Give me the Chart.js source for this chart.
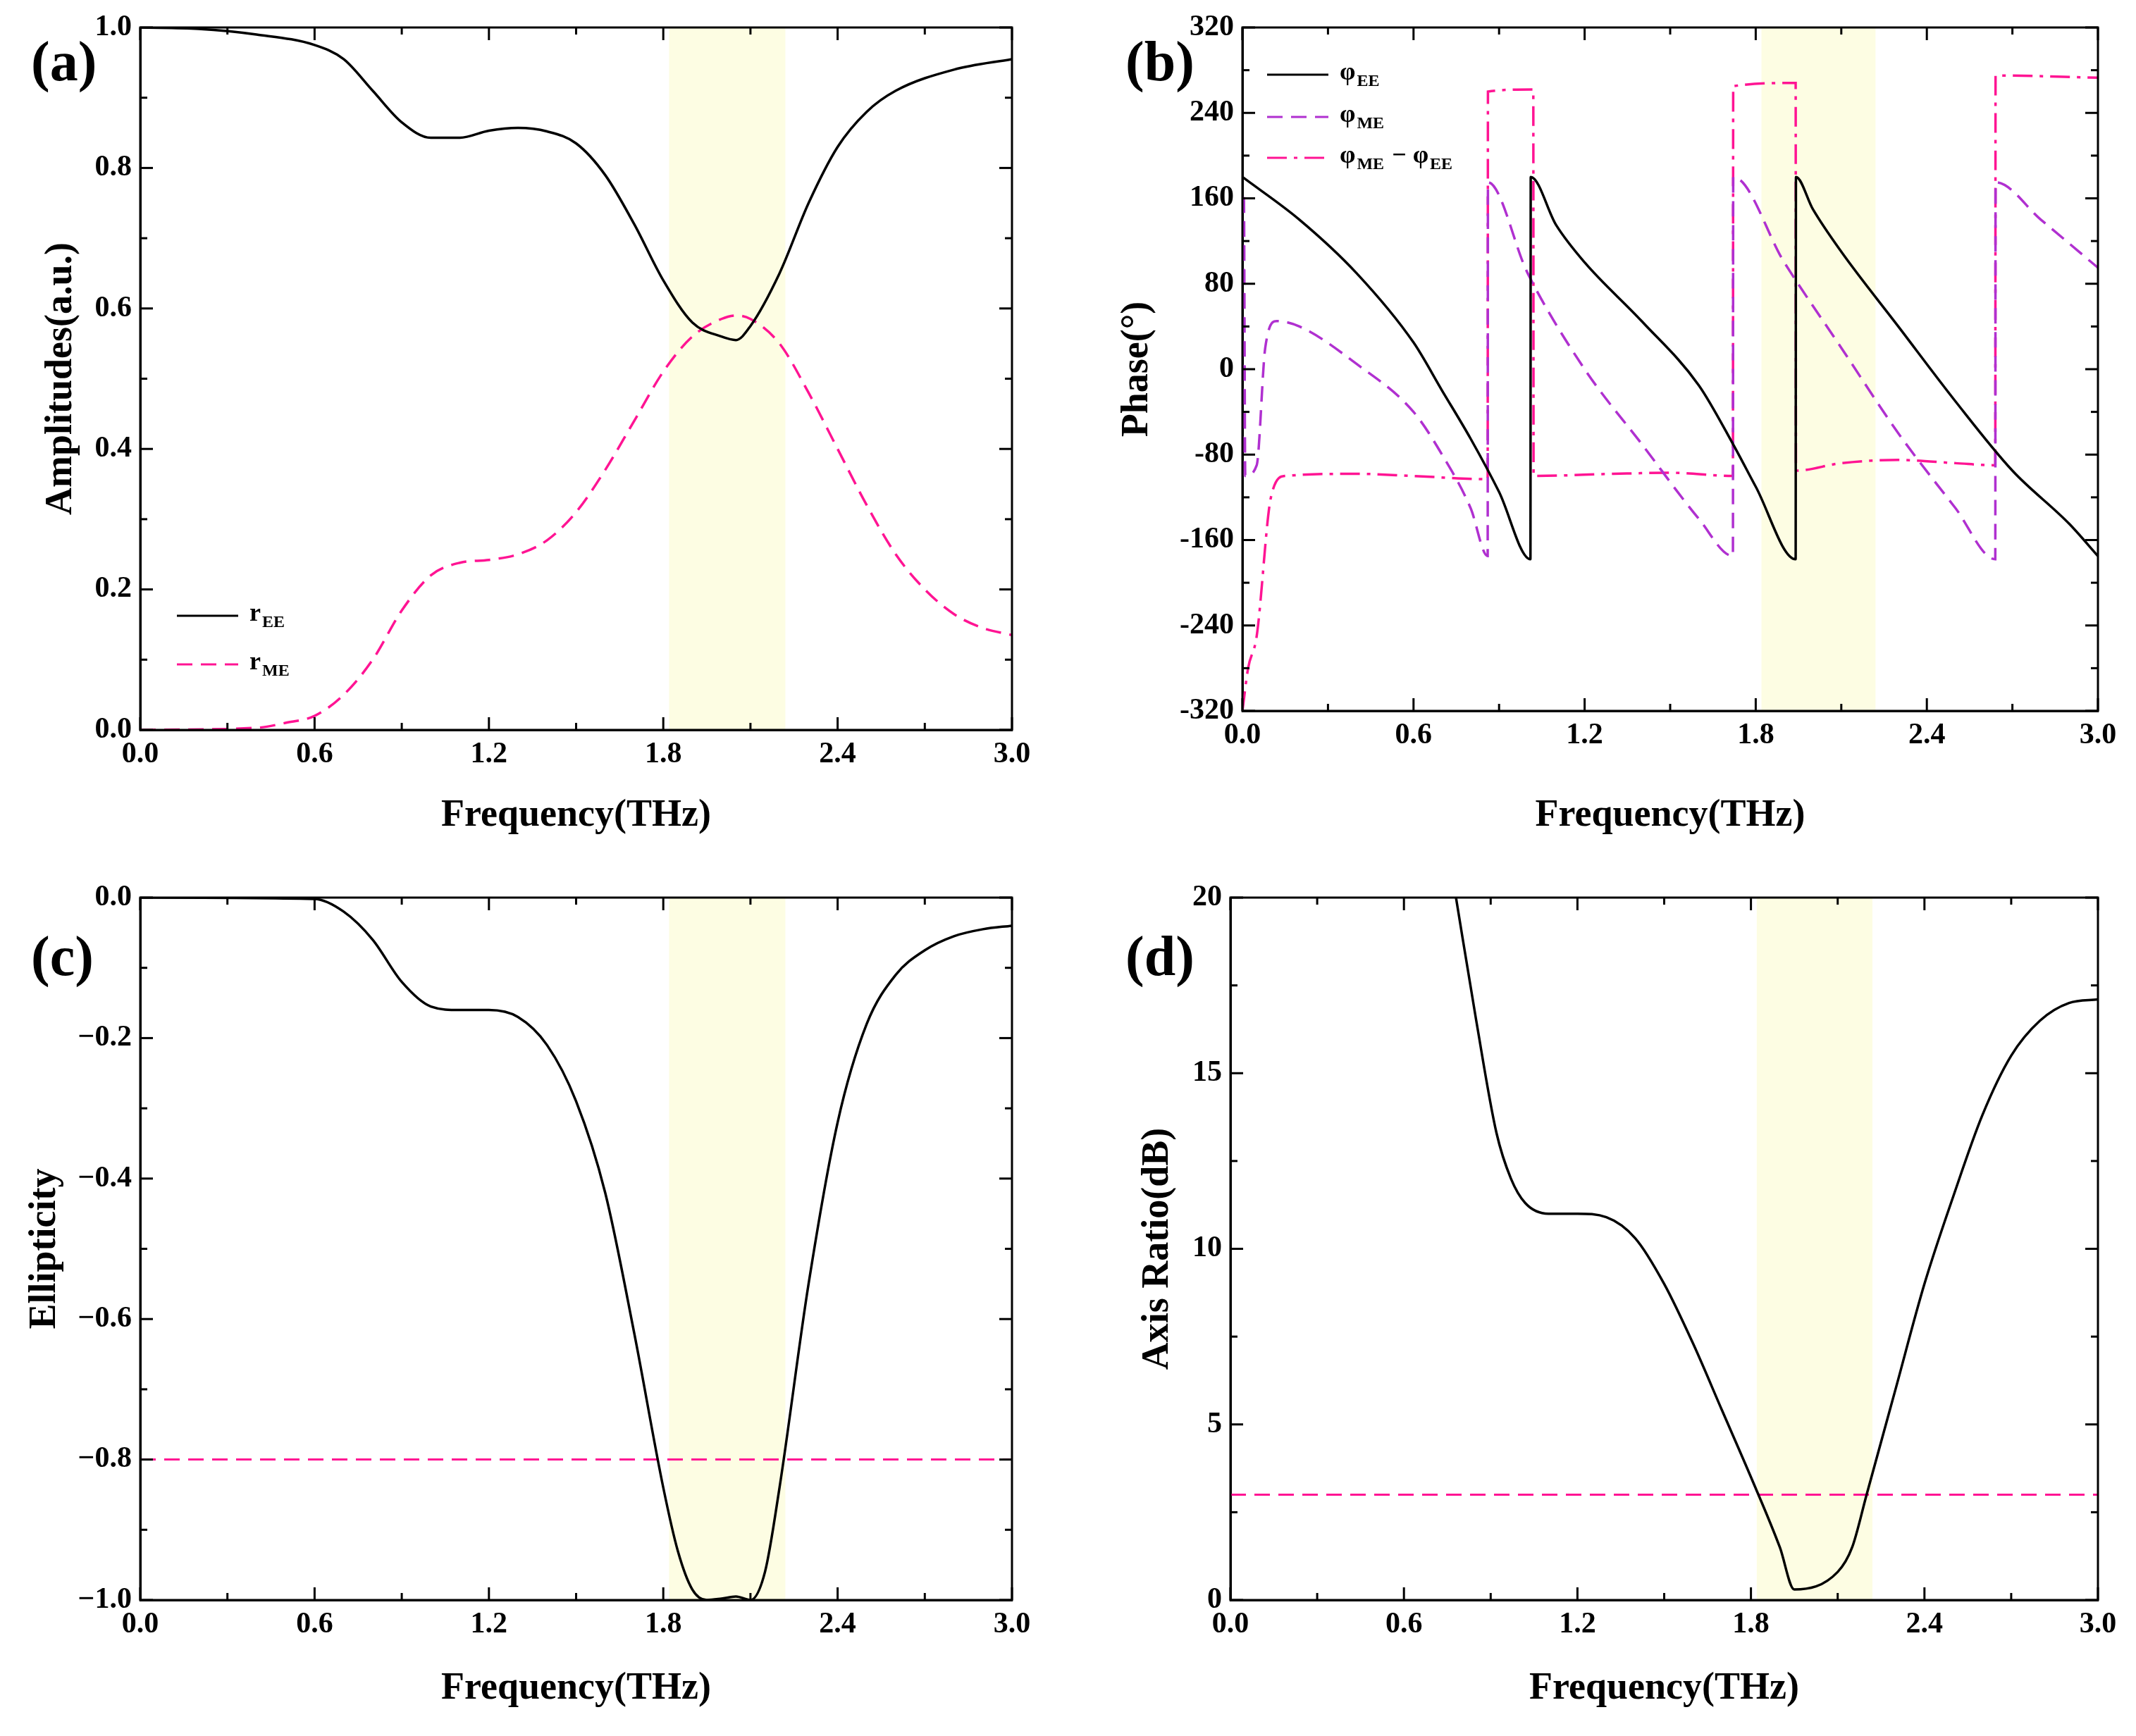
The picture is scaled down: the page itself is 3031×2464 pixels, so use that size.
<!DOCTYPE html>
<html><head><meta charset="utf-8">
<script src="https://cdn.jsdelivr.net/npm/chart.js@4"></script>
<style>
body{margin:0;background:#fff;width:3031px;height:2464px;position:relative;overflow:hidden}
.p{position:absolute}
</style></head><body>
<div class="p" style="left:0;top:0;width:1500px;height:1232px"><canvas id="ca"></canvas></div>
<div class="p" style="left:1516px;top:0;width:1515px;height:1232px"><canvas id="cb"></canvas></div>
<div class="p" style="left:0;top:1232px;width:1500px;height:1232px"><canvas id="cc"></canvas></div>
<div class="p" style="left:1516px;top:1232px;width:1515px;height:1232px"><canvas id="cd"></canvas></div>
<script>
// panel (a) amplitudes
var freqA = [0,0.2,0.4,0.6,0.7,0.8,0.9,1.0,1.1,1.2,1.3,1.4,1.5,1.6,1.7,1.8,1.9,2.0,2.05,2.1,2.2,2.3,2.4,2.5,2.6,2.8,3.0];
var rEE = [1.0,0.998,0.99,0.975,0.955,0.91,0.865,0.843,0.843,0.853,0.857,0.852,0.835,0.79,0.72,0.64,0.58,0.56,0.555,0.575,0.65,0.75,0.83,0.88,0.91,0.94,0.955];
var freqA2 = [0,0.4,0.5,0.6,0.7,0.8,0.9,1.0,1.1,1.2,1.3,1.4,1.5,1.6,1.7,1.8,1.9,2.0,2.05,2.1,2.2,2.3,2.4,2.5,2.6,2.7,2.8,2.9,3.0];
var rME = [0,0.003,0.01,0.02,0.05,0.1,0.17,0.22,0.238,0.242,0.25,0.27,0.31,0.37,0.44,0.51,0.56,0.585,0.59,0.585,0.55,0.48,0.4,0.32,0.25,0.2,0.165,0.145,0.135];
// panel (b) phases
var fEE = [0,0.2,0.4,0.6,0.7,0.8,0.9,1.01,1.011,1.1,1.2,1.4,1.6,1.72,1.8,1.94,1.941,2.0,2.1,2.3,2.5,2.7,2.9,3.0];
var phiEE = [180,140,90,25,-20,-65,-115,-178,180,135,100,45,-15,-70,-110,-178,180,150,110,40,-30,-95,-145,-175];
var fME = [0,0.005,0.01,0.05,0.08,0.12,0.2,0.4,0.6,0.7,0.8,0.86,0.861,1.0,1.2,1.4,1.6,1.72,1.721,1.9,2.1,2.3,2.5,2.64,2.641,2.8,3.0];
var phiME = [-100,165,-100,-90,20,45,40,5,-40,-80,-130,-175,175,90,0,-70,-140,-175,180,100,20,-60,-130,-178,175,140,95];
var fD = [0,0.02,0.05,0.1,0.15,0.4,0.6,0.86,0.861,1.02,1.021,1.3,1.5,1.72,1.721,1.94,1.941,2.1,2.3,2.5,2.64,2.641,3.0];
var phiD = [-320,-280,-250,-120,-100,-98,-100,-103,260,262,-100,-98,-97,-100,265,268,-95,-88,-85,-88,-90,275,273];
// panel (c) ellipticity
var fC = [0,0.6,0.7,0.8,0.9,1.0,1.1,1.2,1.3,1.4,1.5,1.6,1.7,1.8,1.85,1.9,1.95,2.0,2.05,2.1,2.15,2.2,2.3,2.4,2.5,2.6,2.7,2.8,2.9,3.0];
var ellip = [0,-0.002,-0.02,-0.06,-0.12,-0.155,-0.16,-0.16,-0.17,-0.21,-0.29,-0.42,-0.62,-0.84,-0.93,-0.985,-1.0,-0.998,-0.995,-1.0,-0.96,-0.84,-0.55,-0.32,-0.18,-0.11,-0.075,-0.055,-0.045,-0.04];
// panel (d) axis ratio
var fDd = [0.78,0.85,0.92,0.97,1.02,1.1,1.2,1.3,1.4,1.5,1.6,1.7,1.8,1.9,1.95,2.1,2.15,2.2,2.3,2.4,2.5,2.6,2.7,2.8,2.9,3.0];
var axisRatio = [20,16.5,13.3,12,11.3,11,11,10.9,10.3,9,7.3,5.4,3.5,1.5,0.3,0.8,1.5,3,6,9,11.5,13.8,15.5,16.5,17,17.1];

var band = [1.82, 2.22];
var FONT = '"Liberation Serif", "Times New Roman", serif';
var PINK = '#ff1493', PURPLE = '#b030d0';

function pts(xs, ys) { return xs.map(function (x, i) { return {x: x, y: ys[i]}; }); }

function makeChart(id, o) {
  var ctx = document.getElementById(id).getContext('2d');
  var deco = {
    id: 'deco',
    beforeDatasetsDraw: function (c) {
      var a = c.chartArea, x = c.scales.x, g = c.ctx;
      g.save();
      g.fillStyle = '#fdfde3';
      var l = x.getPixelForValue(band[0]), r = x.getPixelForValue(band[1]);
      g.fillRect(l, a.top, r - l, a.bottom - a.top);
      g.restore();
    },
    afterDraw: function (c) {
      var a = c.chartArea, g = c.ctx;
      g.save();
      g.strokeStyle = '#000'; g.lineWidth = 3;
      g.strokeRect(a.left, a.top, a.right - a.left, a.bottom - a.top);
      // inward ticks on all four sides
      var xs = c.scales.x, ys = c.scales.y;
      xs.ticks.forEach(function (t) {
        var px = xs.getPixelForValue(t.value);
        var len = t.label === '' ? 10 : 18;
        g.beginPath(); g.moveTo(px, a.top); g.lineTo(px, a.top + len); g.stroke();
        g.beginPath(); g.moveTo(px, a.bottom); g.lineTo(px, a.bottom - len); g.stroke();
      });
      ys.ticks.forEach(function (t) {
        var py = ys.getPixelForValue(t.value);
        var len = t.label === '' ? 10 : 18;
        g.beginPath(); g.moveTo(a.right, py); g.lineTo(a.right - len, py); g.stroke();
        g.beginPath(); g.moveTo(a.left, py); g.lineTo(a.left + len, py); g.stroke();
      });
      g.fillStyle = '#000';
      g.font = 'bold 80px ' + FONT;
      g.textAlign = 'left'; g.textBaseline = 'middle';
      g.fillText(o.tag, o.tagX, o.tagY);
      // legend
      (o.legend || []).forEach(function (e) {
        var y = e.y;
        g.strokeStyle = e.color; g.lineWidth = 3; g.setLineDash(e.dash || []);
        g.beginPath(); g.moveTo(e.x, y); g.lineTo(e.x + 87, y); g.stroke();
        g.setLineDash([]);
        var tx = e.x + 103;
        e.parts.forEach(function (p) {
          if (p[1]) { g.font = 'bold 24px ' + FONT; g.fillText(p[0], tx, y + 10); }
          else { g.font = 'bold 36px ' + FONT; g.fillText(p[0], tx, y - 2); }
          tx += g.measureText(p[0]).width + 2;
        });
      });
      g.restore();
    }
  };
  return new Chart(ctx, {
    type: 'line',
    data: { datasets: o.datasets },
    plugins: [deco],
    options: {
      responsive: true,
      maintainAspectRatio: false,
      animation: false,
      layout: { padding: o.pad },
      plugins: { legend: { display: false }, tooltip: { enabled: false } },
      elements: { point: { radius: 0 }, line: { borderWidth: 3.5, tension: 0.35, cubicInterpolationMode: 'monotone' } },
      scales: {
        x: {
          type: 'linear', min: 0, max: 3,
          ticks: { stepSize: 0.3, color: '#000', font: { family: FONT, size: 42, weight: 'bold' },
            maxRotation: 0, autoSkip: false, padding: 10,
            callback: function (v) { return Math.abs(Math.round(v / 0.6) * 0.6 - v) < 1e-6 ? v.toFixed(1) : ''; } },
          grid: { drawOnChartArea: false, drawTicks: false },
          border: { color: '#000', width: 3 },
          title: { display: true, text: 'Frequency(THz)', color: '#000', font: { family: FONT, size: 54, weight: 'bold' }, padding: { top: 14 } },
          afterFit: function (s) { s.height = o.xh; }
        },
        y: {
          min: o.ymin, max: o.ymax,
          ticks: { stepSize: o.ystep / 2, color: '#000', font: { family: FONT, size: 42, weight: 'bold' }, autoSkip: false, padding: 12,
            callback: function (v) {
              var k = (v - o.ymin) / o.ystep;
              return Math.abs(k - Math.round(k)) < 1e-6 ? o.yfmt(v) : '';
            } },
          grid: { drawOnChartArea: false, drawTicks: false },
          border: { color: '#000', width: 3 },
          title: { display: true, text: o.ytitle, color: '#000', font: { family: FONT, size: 54, weight: 'bold' } },
          afterFit: function (s) { s.width = o.yw; }
        }
      }
    }
  });
}

makeChart('ca', {
  tag: '(a)', tagX: 44, tagY: 93,
  pad: { top: 39, right: 64, left: 51, bottom: 38 }, xh: 158, yw: 148,
  ymin: 0, ymax: 1, ystep: 0.2, yfmt: function (v) { return v.toFixed(1); }, ytitle: 'Amplitudes(a.u.)',
  datasets: [
    { data: pts(freqA, rEE), borderColor: '#000' },
    { data: pts(freqA2, rME), borderColor: PINK, borderDash: [22, 12] }
  ],
  legend: [
    { x: 251, y: 874, color: '#000', parts: [['r'], ['EE', 1]] },
    { x: 251, y: 943, color: PINK, dash: [22, 12], parts: [['r'], ['ME', 1]] }
  ]
});

makeChart('cb', {
  tag: '(b)', tagX: 81, tagY: 93,
  pad: { top: 39, right: 54, left: 62, bottom: 38 }, xh: 185, yw: 185,
  ymin: -320, ymax: 320, ystep: 80, yfmt: function (v) { return String(v); }, ytitle: 'Phase(°)',
  datasets: [
    { data: pts(fEE, phiEE), borderColor: '#000', tension: 0.2 },
    { data: pts(fME, phiME), borderColor: PURPLE, borderDash: [22, 12], tension: 0.2 },
    { data: pts(fD, phiD), borderColor: PINK, borderDash: [28, 10, 5, 10], tension: 0.2 }
  ],
  legend: [
    { x: 282, y: 106, color: '#000', parts: [['φ'], ['EE', 1]] },
    { x: 282, y: 166, color: PURPLE, dash: [22, 12], parts: [['φ'], ['ME', 1]] },
    { x: 282, y: 224, color: PINK, dash: [28, 10, 5, 10], parts: [['φ'], ['ME', 1], [' − φ'], ['EE', 1]] }
  ]
});

makeChart('cc', {
  tag: '(c)', tagX: 44, tagY: 131,
  pad: { top: 42, right: 64, left: 28, bottom: 31 }, xh: 162, yw: 171,
  ymin: -1, ymax: 0, ystep: 0.2, yfmt: function (v) { return Math.abs(v) < 1e-9 ? '0.0' : '\u2212' + Math.abs(v).toFixed(1); }, ytitle: 'Ellipticity',
  datasets: [
    { data: pts(fC, ellip), borderColor: '#000' },
    { data: pts([0, 3], [-0.8, -0.8]), borderColor: PINK, borderDash: [22, 12], borderWidth: 3 }
  ]
});

makeChart('cd', {
  tag: '(d)', tagX: 81, tagY: 131,
  pad: { top: 42, right: 54, left: 91, bottom: 31 }, xh: 162, yw: 139,
  ymin: 0, ymax: 20, ystep: 5, yfmt: function (v) { return String(v); }, ytitle: 'Axis Ratio(dB)',
  datasets: [
    { data: pts(fDd, axisRatio), borderColor: '#000' },
    { data: pts([0, 3], [3, 3]), borderColor: PINK, borderDash: [22, 12], borderWidth: 3 }
  ]
});
</script>
</body></html>
